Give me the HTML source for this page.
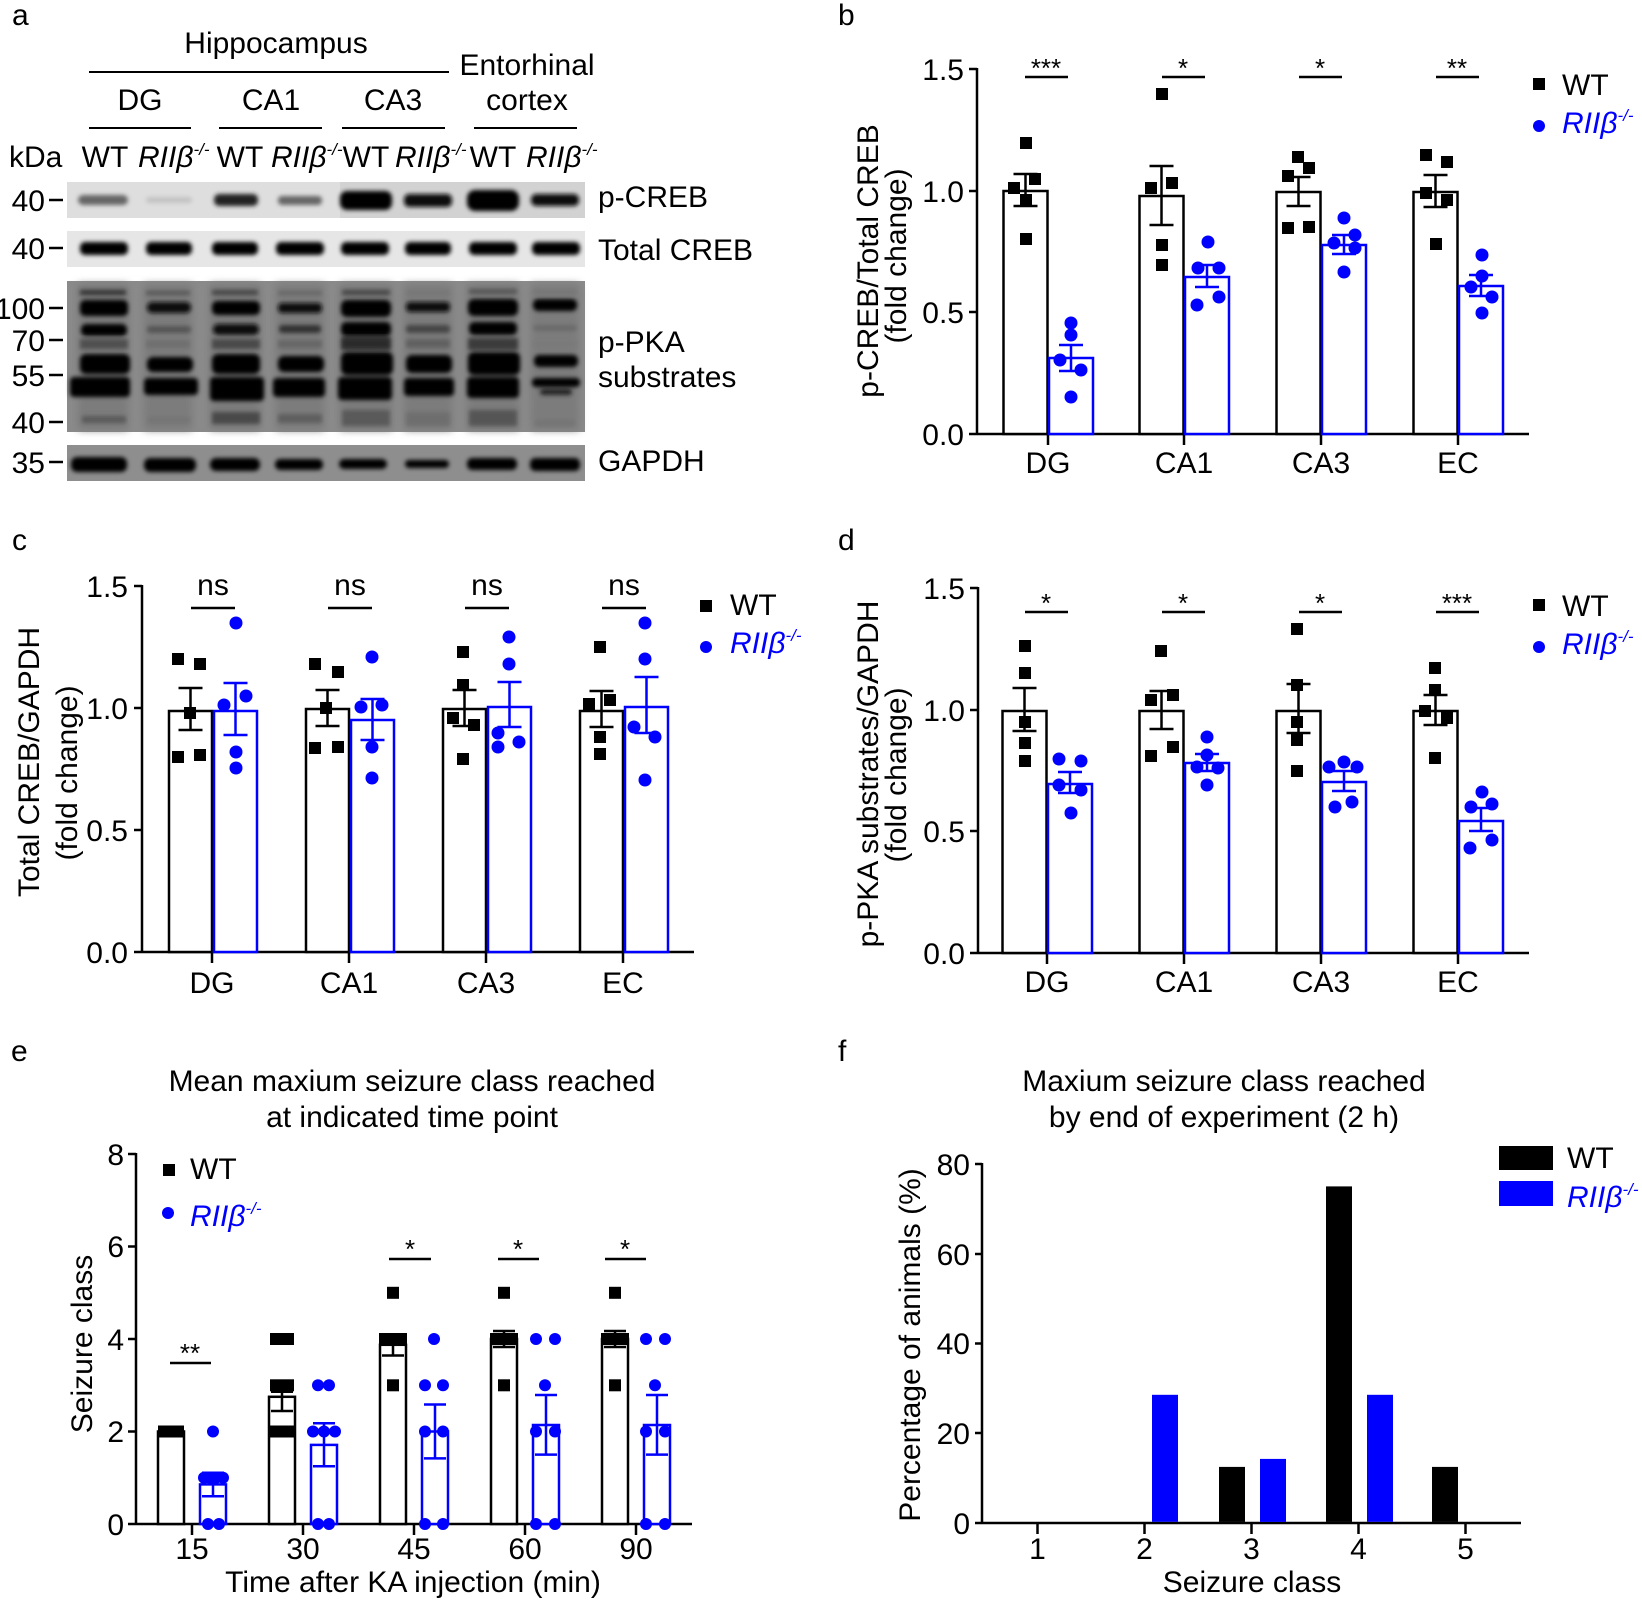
<!DOCTYPE html>
<html><head><meta charset="utf-8"><style>
html,body{margin:0;padding:0;background:#fff;}
svg{display:block;}
text{font-family:"Liberation Sans",Arial,sans-serif;}
</style></head><body>
<svg width="1642" height="1600" viewBox="0 0 1642 1600" xmlns="http://www.w3.org/2000/svg">
<defs>
<filter id="bl" x="-30%" y="-100%" width="160%" height="300%"><feGaussianBlur stdDeviation="2.2"/></filter>
<filter id="bl2" x="-30%" y="-100%" width="160%" height="300%"><feGaussianBlur stdDeviation="4"/></filter>
</defs>
<rect width="1642" height="1600" fill="#fff"/>

<!-- ============ PANEL A ============ -->
<text x="12" y="25" font-size="30">a</text>
<text x="276" y="53" font-size="30" text-anchor="middle">Hippocampus</text>
<line x1="89" y1="72" x2="449" y2="72" stroke="#000" stroke-width="2"/>
<text x="527" y="75" font-size="30" text-anchor="middle">Entorhinal</text>
<text x="527" y="110" font-size="30" text-anchor="middle">cortex</text>
<text x="140" y="110" font-size="30" text-anchor="middle">DG</text>
<text x="271" y="110" font-size="30" text-anchor="middle">CA1</text>
<text x="393" y="110" font-size="30" text-anchor="middle">CA3</text>
<g stroke="#000" stroke-width="2">
<line x1="89" y1="128" x2="191" y2="128"/><line x1="219" y1="128" x2="322" y2="128"/>
<line x1="342" y1="128" x2="445" y2="128"/><line x1="474" y1="128" x2="577" y2="128"/>
</g>
<g font-size="30">
<text x="9" y="167">kDa</text>
<text x="105" y="167" text-anchor="middle">WT</text>
<text x="138" y="167"><tspan font-style="italic">RIIβ</tspan><tspan font-size="17" dy="-12" font-style="italic">-/-</tspan></text>
<text x="240" y="167" text-anchor="middle">WT</text>
<text x="271" y="167"><tspan font-style="italic">RIIβ</tspan><tspan font-size="17" dy="-12" font-style="italic">-/-</tspan></text>
<text x="366" y="167" text-anchor="middle">WT</text>
<text x="395" y="167"><tspan font-style="italic">RIIβ</tspan><tspan font-size="17" dy="-12" font-style="italic">-/-</tspan></text>
<text x="493" y="167" text-anchor="middle">WT</text>
<text x="526" y="167"><tspan font-style="italic">RIIβ</tspan><tspan font-size="17" dy="-12" font-style="italic">-/-</tspan></text>
</g>
<!-- MW labels -->
<g font-size="30" text-anchor="end">
<text x="45" y="211">40</text><text x="45" y="259">40</text><text x="45" y="319">100</text>
<text x="45" y="351">70</text><text x="45" y="386">55</text><text x="45" y="433">40</text><text x="45" y="473">35</text>
</g>
<g stroke="#000" stroke-width="2.5">
<line x1="49" y1="200" x2="63" y2="200"/><line x1="49" y1="248" x2="63" y2="248"/>
<line x1="49" y1="308" x2="63" y2="308"/><line x1="49" y1="340" x2="63" y2="340"/>
<line x1="49" y1="375" x2="63" y2="375"/><line x1="49" y1="422" x2="63" y2="422"/>
<line x1="49" y1="462" x2="63" y2="462"/>
</g>
<!-- right labels -->
<g font-size="30">
<text x="598" y="207">p-CREB</text>
<text x="598" y="260">Total CREB</text>
<text x="598" y="352">p-PKA</text>
<text x="598" y="387">substrates</text>
<text x="598" y="471">GAPDH</text>
</g>

<!-- p-CREB strip -->
<rect x="67" y="182" width="518" height="36" fill="#dedede"/>
<rect x="340" y="182" width="245" height="36" fill="#d2d2d2"/>
<g filter="url(#bl)">
<rect x="78" y="195" width="50" height="10" rx="5" fill="#666"/>
<rect x="146" y="197" width="46" height="6" rx="3" fill="#c2c2c2"/>
<rect x="214" y="194" width="44" height="12" rx="5" fill="#222"/>
<rect x="278" y="196" width="44" height="9" rx="4" fill="#666"/>
<rect x="340" y="191" width="52" height="19" rx="7" fill="#000"/>
<rect x="404" y="194" width="48" height="13" rx="5" fill="#080808"/>
<rect x="467" y="190" width="52" height="21" rx="8" fill="#000"/>
<rect x="531" y="194" width="48" height="12" rx="5" fill="#0a0a0a"/>
</g>

<!-- Total CREB strip -->
<rect x="67" y="231" width="518" height="36" fill="#e6e6e6"/>
<g filter="url(#bl)">
<rect x="80" y="242" width="48" height="13" rx="5" fill="#000"/>
<rect x="146" y="242" width="46" height="13" rx="5" fill="#000"/>
<rect x="212" y="242" width="46" height="13" rx="5" fill="#000"/>
<rect x="276" y="242" width="48" height="13" rx="5" fill="#000"/>
<rect x="341" y="242" width="48" height="13" rx="5" fill="#000"/>
<rect x="405" y="242" width="46" height="13" rx="5" fill="#000"/>
<rect x="469" y="242" width="48" height="13" rx="5" fill="#000"/>
<rect x="532" y="242" width="48" height="13" rx="5" fill="#000"/>
</g>

<!-- p-PKA strip -->
<rect x="67" y="281" width="518" height="151" fill="#8a8a8a"/>
<g fill="#7c7c7c" filter="url(#bl2)">
<rect x="78" y="284" width="50" height="146"/><rect x="144" y="284" width="48" height="146"/>
<rect x="210" y="284" width="50" height="146"/><rect x="276" y="284" width="48" height="146"/>
<rect x="340" y="284" width="52" height="146"/><rect x="404" y="284" width="48" height="146"/>
<rect x="467" y="284" width="52" height="146"/><rect x="531" y="284" width="48" height="146"/>
</g>
<g filter="url(#bl)">
<!-- top faint -->
<rect x="80" y="290" width="46" height="5" fill="#333"/><rect x="146" y="291" width="44" height="4" fill="#555"/>
<rect x="212" y="290" width="46" height="5" fill="#444"/><rect x="278" y="291" width="44" height="4" fill="#666"/>
<rect x="342" y="290" width="48" height="5" fill="#444"/><rect x="406" y="291" width="44" height="4" fill="#777"/>
<rect x="469" y="289" width="48" height="5" fill="#555"/><rect x="533" y="290" width="44" height="4" fill="#777"/>
<!-- 100 band -->
<rect x="80" y="300" width="48" height="16" rx="5" fill="#000"/><rect x="147" y="302" width="44" height="11" rx="5" fill="#0c0c0c"/>
<rect x="212" y="301" width="48" height="14" rx="5" fill="#000"/><rect x="278" y="303" width="44" height="10" rx="4" fill="#111"/>
<rect x="341" y="300" width="50" height="17" rx="6" fill="#000"/><rect x="406" y="302" width="44" height="10" rx="4" fill="#0a0a0a"/>
<rect x="468" y="299" width="50" height="17" rx="6" fill="#000"/><rect x="533" y="299" width="44" height="12" rx="5" fill="#000"/>
<!-- 70 band -->
<rect x="81" y="324" width="46" height="12" rx="5" fill="#050505"/><rect x="147" y="326" width="44" height="7" rx="3" fill="#555"/>
<rect x="213" y="324" width="46" height="11" rx="5" fill="#0a0a0a"/><rect x="279" y="325" width="42" height="8" rx="3" fill="#333"/>
<rect x="341" y="322" width="50" height="14" rx="5" fill="#000"/><rect x="406" y="325" width="44" height="8" rx="3" fill="#444"/>
<rect x="469" y="322" width="48" height="13" rx="5" fill="#000"/><rect x="533" y="325" width="44" height="6" rx="3" fill="#6a6a6a"/>
<!-- smear -->
<rect x="80" y="339" width="48" height="10" fill="#505050"/><rect x="146" y="340" width="44" height="8" fill="#707070"/>
<rect x="212" y="339" width="48" height="10" fill="#4a4a4a"/><rect x="278" y="340" width="44" height="8" fill="#666"/>
<rect x="341" y="337" width="50" height="13" fill="#2a2a2a"/><rect x="406" y="339" width="44" height="9" fill="#606060"/>
<rect x="468" y="338" width="50" height="12" fill="#3a3a3a"/><rect x="533" y="340" width="44" height="8" fill="#7a7a7a"/>
<!-- 55 upper -->
<rect x="80" y="354" width="50" height="20" rx="6" fill="#000"/><rect x="147" y="357" width="46" height="15" rx="6" fill="#050505"/>
<rect x="212" y="354" width="48" height="20" rx="6" fill="#000"/><rect x="278" y="356" width="46" height="16" rx="6" fill="#000"/>
<rect x="341" y="352" width="52" height="23" rx="6" fill="#000"/><rect x="406" y="355" width="46" height="18" rx="6" fill="#000"/>
<rect x="468" y="352" width="52" height="23" rx="6" fill="#000"/><rect x="534" y="355" width="44" height="12" rx="5" fill="#000"/>
<!-- 55 main -->
<rect x="70" y="377" width="60" height="20" rx="4" fill="#000"/><rect x="144" y="378" width="54" height="17" rx="4" fill="#000"/>
<rect x="210" y="377" width="54" height="24" rx="4" fill="#000"/><rect x="273" y="378" width="52" height="19" rx="4" fill="#000"/>
<rect x="338" y="377" width="54" height="23" rx="4" fill="#000"/><rect x="404" y="378" width="50" height="18" rx="4" fill="#000"/>
<rect x="467" y="377" width="52" height="21" rx="4" fill="#000"/><rect x="532" y="378" width="48" height="9" rx="4" fill="#000"/>
<rect x="540" y="389" width="32" height="6" rx="3" fill="#222"/>
<!-- 40 faint -->
<rect x="82" y="416" width="44" height="7" fill="#5a5a5a"/><rect x="148" y="417" width="42" height="6" fill="#747474"/>
<rect x="212" y="412" width="48" height="12" fill="#4a4a4a"/><rect x="278" y="414" width="44" height="9" fill="#5e5e5e"/>
<rect x="342" y="410" width="48" height="16" fill="#5a5a5a"/><rect x="406" y="412" width="44" height="14" fill="#6e6e6e"/>
<rect x="469" y="410" width="48" height="16" fill="#555"/><rect x="535" y="420" width="40" height="6" fill="#747474"/>
</g>

<!-- GAPDH strip -->
<rect x="67" y="445" width="518" height="36" fill="#8e8e8e"/>
<g filter="url(#bl)">
<rect x="71" y="457" width="56" height="15" rx="6" fill="#000"/>
<rect x="144" y="458" width="52" height="14" rx="6" fill="#000"/>
<rect x="210" y="458" width="50" height="13" rx="6" fill="#000"/>
<rect x="275" y="459" width="48" height="11" rx="5" fill="#000"/>
<rect x="339" y="459" width="48" height="10" rx="5" fill="#000"/>
<rect x="405" y="460" width="44" height="8" rx="4" fill="#000"/>
<rect x="467" y="458" width="50" height="12" rx="5" fill="#000"/>
<rect x="530" y="458" width="50" height="13" rx="5" fill="#000"/>
</g>

<!-- ============ PANEL B ============ -->
<text x="838" y="25" font-size="30">b</text>
<g stroke="#000" stroke-width="2.5" fill="none">
<line x1="977" y1="68" x2="977" y2="435"/>
<line x1="969" y1="434" x2="1529" y2="434"/>
<line x1="969" y1="69" x2="977" y2="69"/><line x1="969" y1="191" x2="977" y2="191"/>
<line x1="969" y1="312" x2="977" y2="312"/>
<line x1="1048" y1="434" x2="1048" y2="445"/><line x1="1184" y1="434" x2="1184" y2="445"/>
<line x1="1321" y1="434" x2="1321" y2="445"/><line x1="1458" y1="434" x2="1458" y2="445"/>
</g>
<g font-size="30" text-anchor="end">
<text x="964" y="80">1.5</text><text x="964" y="202">1.0</text><text x="964" y="323">0.5</text><text x="964" y="445">0.0</text>
</g>
<g font-size="30" text-anchor="middle">
<text x="1048" y="473">DG</text><text x="1184" y="473">CA1</text><text x="1321" y="473">CA3</text><text x="1458" y="473">EC</text>
</g>
<text transform="translate(878,261) rotate(-90)" font-size="30" text-anchor="middle">p-CREB/Total CREB</text>
<text transform="translate(906,256) rotate(-90)" font-size="30" text-anchor="middle">(fold change)</text>
<!-- bars -->
<g stroke-width="2.5" fill="#fff">
<rect x="1003.5" y="191" width="44" height="243" stroke="#000"/>
<rect x="1049" y="358" width="44" height="76" stroke="#00f"/>
<rect x="1139.5" y="196" width="44" height="238" stroke="#000"/>
<rect x="1185" y="277" width="44" height="157" stroke="#00f"/>
<rect x="1276.5" y="192" width="44" height="242" stroke="#000"/>
<rect x="1322" y="245" width="44" height="189" stroke="#00f"/>
<rect x="1413.5" y="192" width="44" height="242" stroke="#000"/>
<rect x="1459" y="286" width="44" height="148" stroke="#00f"/>
</g>
<g fill="#000">
<rect x="1020" y="137" width="12" height="12"/><rect x="1029" y="173" width="12" height="12"/><rect x="1008" y="182" width="12" height="12"/><rect x="1020" y="194" width="12" height="12"/><rect x="1020" y="233" width="12" height="12"/>
<rect x="1156" y="88" width="12" height="12"/><rect x="1145" y="182" width="12" height="12"/><rect x="1166" y="177" width="12" height="12"/><rect x="1156" y="239" width="12" height="12"/><rect x="1156" y="259" width="12" height="12"/>
<rect x="1292" y="151" width="12" height="12"/><rect x="1303" y="162" width="12" height="12"/><rect x="1282" y="170" width="12" height="12"/><rect x="1282" y="222" width="12" height="12"/><rect x="1303" y="221" width="12" height="12"/>
<rect x="1420" y="149" width="12" height="12"/><rect x="1441" y="156" width="12" height="12"/><rect x="1420" y="187" width="12" height="12"/><rect x="1441" y="194" width="12" height="12"/><rect x="1430" y="238" width="12" height="12"/>
</g>
<g fill="#00f">
<circle cx="1071" cy="323" r="6.5"/><circle cx="1071" cy="335" r="6.5"/><circle cx="1060" cy="360" r="6.5"/><circle cx="1081" cy="370" r="6.5"/><circle cx="1071" cy="397" r="6.5"/>
<circle cx="1208" cy="242" r="6.5"/><circle cx="1198" cy="268" r="6.5"/><circle cx="1219" cy="268" r="6.5"/><circle cx="1219" cy="297" r="6.5"/><circle cx="1197" cy="305" r="6.5"/>
<circle cx="1344" cy="218" r="6.5"/><circle cx="1355" cy="235" r="6.5"/><circle cx="1334" cy="243" r="6.5"/><circle cx="1355" cy="248" r="6.5"/><circle cx="1344" cy="272" r="6.5"/>
<circle cx="1482" cy="255" r="6.5"/><circle cx="1482" cy="276" r="6.5"/><circle cx="1471" cy="287" r="6.5"/><circle cx="1492" cy="297" r="6.5"/><circle cx="1482" cy="313" r="6.5"/>
</g>
<g stroke-width="2.5" fill="none">
<path stroke="#000" d="M1025.5 174V206M1013.5 174h24M1013.5 206h24 M1161.5 166V225M1149.5 166h24M1149.5 225h24 M1298.5 177V206M1286.5 177h24M1286.5 206h24 M1435.5 175V207M1423.5 175h24M1423.5 207h24"/>
<path stroke="#00f" d="M1071 345V371M1059 345h24M1059 371h24 M1207 265V287M1195 265h24M1195 287h24 M1344 235V254M1332 235h24M1332 254h24 M1481 275V296M1469 275h24M1469 296h24"/>
</g>
<g stroke="#000" stroke-width="2.5">
<line x1="1025" y1="77" x2="1068" y2="77"/><line x1="1162" y1="77" x2="1205" y2="77"/>
<line x1="1299" y1="77" x2="1342" y2="77"/><line x1="1436" y1="77" x2="1479" y2="77"/>
</g>
<g font-size="26" text-anchor="middle">
<text x="1046" y="77">***</text><text x="1183" y="77">*</text><text x="1320" y="77">*</text><text x="1457" y="77">**</text>
</g>
<rect x="1533" y="78" width="12" height="12" fill="#000"/>
<text x="1562" y="95" font-size="30">WT</text>
<circle cx="1539" cy="126" r="6" fill="#00f"/>
<text x="1562" y="133" font-size="30" fill="#00f"><tspan font-style="italic">RIIβ</tspan><tspan font-size="17" dy="-12" font-style="italic">-/-</tspan></text>

<!-- ============ PANEL C ============ -->
<text x="12" y="550" font-size="30">c</text>
<g stroke="#000" stroke-width="2.5" fill="none">
<line x1="142" y1="585" x2="142" y2="953"/>
<line x1="134" y1="952" x2="694" y2="952"/>
<line x1="134" y1="586" x2="142" y2="586"/><line x1="134" y1="708" x2="142" y2="708"/>
<line x1="134" y1="830" x2="142" y2="830"/>
<line x1="212" y1="952" x2="212" y2="963"/><line x1="349" y1="952" x2="349" y2="963"/>
<line x1="486" y1="952" x2="486" y2="963"/><line x1="623" y1="952" x2="623" y2="963"/>
</g>
<g font-size="30" text-anchor="end">
<text x="128" y="597">1.5</text><text x="128" y="719">1.0</text><text x="128" y="841">0.5</text><text x="128" y="963">0.0</text>
</g>
<g font-size="30" text-anchor="middle">
<text x="212" y="993">DG</text><text x="349" y="993">CA1</text><text x="486" y="993">CA3</text><text x="623" y="993">EC</text>
</g>
<text transform="translate(39,762) rotate(-90)" font-size="30" text-anchor="middle">Total CREB/GAPDH</text>
<text transform="translate(77,773) rotate(-90)" font-size="30" text-anchor="middle">(fold change)</text>
<g stroke-width="2.5" fill="#fff">
<rect x="169" y="711" width="43" height="241" stroke="#000"/>
<rect x="214" y="711" width="43" height="241" stroke="#00f"/>
<rect x="306" y="709" width="43" height="243" stroke="#000"/>
<rect x="351" y="720" width="43" height="232" stroke="#00f"/>
<rect x="443" y="709" width="43" height="243" stroke="#000"/>
<rect x="488" y="707" width="43" height="245" stroke="#00f"/>
<rect x="580" y="711" width="43" height="241" stroke="#000"/>
<rect x="625" y="707" width="43" height="245" stroke="#00f"/>
</g>
<g fill="#000">
<rect x="172" y="653" width="12" height="12"/><rect x="194" y="658" width="12" height="12"/><rect x="184" y="707" width="12" height="12"/><rect x="172" y="751" width="12" height="12"/><rect x="194" y="749" width="12" height="12"/>
<rect x="309" y="658" width="12" height="12"/><rect x="332" y="666" width="12" height="12"/><rect x="320" y="702" width="12" height="12"/><rect x="309" y="742" width="12" height="12"/><rect x="332" y="741" width="12" height="12"/>
<rect x="457" y="646" width="12" height="12"/><rect x="457" y="679" width="12" height="12"/><rect x="447" y="712" width="12" height="12"/><rect x="468" y="719" width="12" height="12"/><rect x="457" y="753" width="12" height="12"/>
<rect x="594" y="641" width="12" height="12"/><rect x="583" y="698" width="12" height="12"/><rect x="604" y="694" width="12" height="12"/><rect x="594" y="731" width="12" height="12"/><rect x="594" y="748" width="12" height="12"/>
</g>
<g fill="#00f">
<circle cx="236" cy="623" r="6.5"/><circle cx="246" cy="696" r="6.5"/><circle cx="224" cy="705" r="6.5"/><circle cx="236" cy="752" r="6.5"/><circle cx="236" cy="768" r="6.5"/>
<circle cx="372" cy="657" r="6.5"/><circle cx="361" cy="707" r="6.5"/><circle cx="382" cy="705" r="6.5"/><circle cx="372" cy="747" r="6.5"/><circle cx="372" cy="778" r="6.5"/>
<circle cx="509" cy="637" r="6.5"/><circle cx="509" cy="664" r="6.5"/><circle cx="498" cy="733" r="6.5"/><circle cx="519" cy="742" r="6.5"/><circle cx="498" cy="747" r="6.5"/>
<circle cx="645" cy="623" r="6.5"/><circle cx="645" cy="659" r="6.5"/><circle cx="634" cy="727" r="6.5"/><circle cx="655" cy="737" r="6.5"/><circle cx="645" cy="780" r="6.5"/>
</g>
<g stroke-width="2.5" fill="none">
<path stroke="#000" d="M190.5 688V730M178.5 688h24M178.5 730h24 M327.5 690V726M315.5 690h24M315.5 726h24 M464.5 690V726M452.5 690h24M452.5 726h24 M601.5 691V727M589.5 691h24M589.5 727h24"/>
<path stroke="#00f" d="M235.5 683V735M223.5 683h24M223.5 735h24 M372.5 699V740M360.5 699h24M360.5 740h24 M509.5 682V727M497.5 682h24M497.5 727h24 M646.5 677V733M634.5 677h24M634.5 733h24"/>
</g>
<g stroke="#000" stroke-width="2.5">
<line x1="191" y1="608" x2="235" y2="608"/><line x1="328" y1="608" x2="372" y2="608"/>
<line x1="465" y1="608" x2="509" y2="608"/><line x1="602" y1="608" x2="646" y2="608"/>
</g>
<g font-size="30" text-anchor="middle">
<text x="213" y="595">ns</text><text x="350" y="595">ns</text><text x="487" y="595">ns</text><text x="624" y="595">ns</text>
</g>
<rect x="700" y="600" width="12" height="12" fill="#000"/>
<text x="730" y="615" font-size="30">WT</text>
<circle cx="706" cy="647" r="6" fill="#00f"/>
<text x="730" y="653" font-size="30" fill="#00f"><tspan font-style="italic">RIIβ</tspan><tspan font-size="17" dy="-12" font-style="italic">-/-</tspan></text>

<!-- ============ PANEL D ============ -->
<text x="838" y="550" font-size="30">d</text>
<g stroke="#000" stroke-width="2.5" fill="none">
<line x1="978" y1="587" x2="978" y2="954"/>
<line x1="970" y1="953" x2="1529" y2="953"/>
<line x1="970" y1="588" x2="978" y2="588"/><line x1="970" y1="710" x2="978" y2="710"/>
<line x1="970" y1="831" x2="978" y2="831"/>
<line x1="1047" y1="953" x2="1047" y2="964"/><line x1="1184" y1="953" x2="1184" y2="964"/>
<line x1="1321" y1="953" x2="1321" y2="964"/><line x1="1458" y1="953" x2="1458" y2="964"/>
</g>
<g font-size="30" text-anchor="end">
<text x="965" y="599">1.5</text><text x="965" y="721">1.0</text><text x="965" y="842">0.5</text><text x="965" y="964">0.0</text>
</g>
<g font-size="30" text-anchor="middle">
<text x="1047" y="992">DG</text><text x="1184" y="992">CA1</text><text x="1321" y="992">CA3</text><text x="1458" y="992">EC</text>
</g>
<text transform="translate(878,774) rotate(-90)" font-size="30" text-anchor="middle">p-PKA substrates/GAPDH</text>
<text transform="translate(906,775) rotate(-90)" font-size="30" text-anchor="middle">(fold change)</text>
<g stroke-width="2.5" fill="#fff">
<rect x="1002.5" y="711" width="44" height="242" stroke="#000"/>
<rect x="1048" y="784" width="44" height="169" stroke="#00f"/>
<rect x="1139.5" y="711" width="44" height="242" stroke="#000"/>
<rect x="1185" y="763" width="44" height="190" stroke="#00f"/>
<rect x="1276.5" y="711" width="44" height="242" stroke="#000"/>
<rect x="1322" y="782" width="44" height="171" stroke="#00f"/>
<rect x="1413.5" y="711" width="44" height="242" stroke="#000"/>
<rect x="1459" y="821" width="44" height="132" stroke="#00f"/>
</g>
<g fill="#000">
<rect x="1019" y="640" width="12" height="12"/><rect x="1019" y="667" width="12" height="12"/><rect x="1019" y="716" width="12" height="12"/><rect x="1019" y="737" width="12" height="12"/><rect x="1019" y="755" width="12" height="12"/>
<rect x="1155" y="645" width="12" height="12"/><rect x="1145" y="694" width="12" height="12"/><rect x="1167" y="689" width="12" height="12"/><rect x="1167" y="741" width="12" height="12"/><rect x="1145" y="750" width="12" height="12"/>
<rect x="1291" y="623" width="12" height="12"/><rect x="1291" y="679" width="12" height="12"/><rect x="1291" y="716" width="12" height="12"/><rect x="1291" y="734" width="12" height="12"/><rect x="1291" y="765" width="12" height="12"/>
<rect x="1429" y="662" width="12" height="12"/><rect x="1429" y="684" width="12" height="12"/><rect x="1419" y="705" width="12" height="12"/><rect x="1441" y="712" width="12" height="12"/><rect x="1429" y="752" width="12" height="12"/>
</g>
<g fill="#00f">
<circle cx="1059" cy="759" r="6.5"/><circle cx="1081" cy="761" r="6.5"/><circle cx="1059" cy="785" r="6.5"/><circle cx="1081" cy="790" r="6.5"/><circle cx="1071" cy="813" r="6.5"/>
<circle cx="1207" cy="737" r="6.5"/><circle cx="1207" cy="755" r="6.5"/><circle cx="1197" cy="767" r="6.5"/><circle cx="1218" cy="768" r="6.5"/><circle cx="1207" cy="785" r="6.5"/>
<circle cx="1329" cy="767" r="6.5"/><circle cx="1344" cy="762" r="6.5"/><circle cx="1357" cy="767" r="6.5"/><circle cx="1352" cy="802" r="6.5"/><circle cx="1335" cy="807" r="6.5"/>
<circle cx="1482" cy="792" r="6.5"/><circle cx="1471" cy="807" r="6.5"/><circle cx="1492" cy="804" r="6.5"/><circle cx="1492" cy="840" r="6.5"/><circle cx="1470" cy="848" r="6.5"/>
</g>
<g stroke-width="2.5" fill="none">
<path stroke="#000" d="M1024.5 688V731M1012.5 688h24M1012.5 731h24 M1161.5 691V729M1149.5 691h24M1149.5 729h24 M1298.5 684V733M1286.5 684h24M1286.5 733h24 M1435.5 695V725M1423.5 695h24M1423.5 725h24"/>
<path stroke="#00f" d="M1070 772V793M1058 772h24M1058 793h24 M1207 754V771M1195 754h24M1195 771h24 M1344 771V791M1332 771h24M1332 791h24 M1481 808V831M1469 808h24M1469 831h24"/>
</g>
<g stroke="#000" stroke-width="2.5">
<line x1="1025" y1="612" x2="1068" y2="612"/><line x1="1162" y1="612" x2="1205" y2="612"/>
<line x1="1299" y1="612" x2="1342" y2="612"/><line x1="1436" y1="612" x2="1479" y2="612"/>
</g>
<g font-size="26" text-anchor="middle">
<text x="1046" y="612">*</text><text x="1183" y="612">*</text><text x="1320" y="612">*</text><text x="1457" y="612">***</text>
</g>
<rect x="1533" y="599" width="12" height="12" fill="#000"/>
<text x="1562" y="616" font-size="30">WT</text>
<circle cx="1539" cy="647" r="6" fill="#00f"/>
<text x="1562" y="654" font-size="30" fill="#00f"><tspan font-style="italic">RIIβ</tspan><tspan font-size="17" dy="-12" font-style="italic">-/-</tspan></text>

<!-- ============ PANEL E ============ -->
<text x="11" y="1061" font-size="30">e</text>
<text x="412" y="1091" font-size="30" text-anchor="middle">Mean maxium seizure class reached</text>
<text x="412" y="1127" font-size="30" text-anchor="middle">at indicated time point</text>
<g stroke="#000" stroke-width="2.5" fill="none">
<line x1="136" y1="1153" x2="136" y2="1525"/>
<line x1="128" y1="1524" x2="692" y2="1524"/>
<line x1="128" y1="1154" x2="136" y2="1154"/><line x1="128" y1="1246.5" x2="136" y2="1246.5"/>
<line x1="128" y1="1339" x2="136" y2="1339"/><line x1="128" y1="1431.5" x2="136" y2="1431.5"/>
<line x1="192" y1="1524" x2="192" y2="1535"/><line x1="303" y1="1524" x2="303" y2="1535"/>
<line x1="414" y1="1524" x2="414" y2="1535"/><line x1="525" y1="1524" x2="525" y2="1535"/>
<line x1="636" y1="1524" x2="636" y2="1535"/>
</g>
<g font-size="30" text-anchor="end">
<text x="124" y="1165">8</text><text x="124" y="1257">6</text><text x="124" y="1350">4</text><text x="124" y="1442">2</text><text x="124" y="1535">0</text>
</g>
<g font-size="30" text-anchor="middle">
<text x="192" y="1559">15</text><text x="303" y="1559">30</text><text x="414" y="1559">45</text><text x="525" y="1559">60</text><text x="636" y="1559">90</text>
</g>
<text x="413" y="1592" font-size="30" text-anchor="middle">Time after KA injection (min)</text>
<text transform="translate(92,1344) rotate(-90)" font-size="30" text-anchor="middle">Seizure class</text>
<g stroke-width="2.5" fill="#fff">
<rect x="158" y="1431.5" width="26" height="92.5" stroke="#000"/>
<rect x="200" y="1484.4" width="26" height="39.6" stroke="#00f"/>
<rect x="269" y="1396.8" width="26" height="127.2" stroke="#000"/>
<rect x="311" y="1444.9" width="26" height="79.1" stroke="#00f"/>
<rect x="380" y="1344.8" width="26" height="179.2" stroke="#000"/>
<rect x="422" y="1431.5" width="26" height="92.5" stroke="#00f"/>
<rect x="491" y="1339" width="26" height="185" stroke="#000"/>
<rect x="533" y="1425" width="26" height="99" stroke="#00f"/>
<rect x="602" y="1339" width="26" height="185" stroke="#000"/>
<rect x="644" y="1425" width="26" height="99" stroke="#00f"/>
</g>
<g stroke-width="2.5" fill="none">
<path stroke="#000" d="M282 1391.8V1411M271 1391.8h22M271 1411h22 M393 1334.4V1355.5M382 1355.5h22 M504 1331V1347M493 1331h22M493 1347h22 M615 1331V1347M604 1331h22M604 1347h22"/>
<path stroke="#00f" d="M213 1472.7V1496.3M202 1472.7h22M202 1496.3h22 M324 1423.2V1466.2M313 1423.2h22M313 1466.2h22 M435 1404.5V1458.4M424 1404.5h22M424 1458.4h22 M546 1395V1454.6M535 1395h22M535 1454.6h22 M657 1395V1454.6M646 1395h22M646 1454.6h22"/>
</g>
<g fill="#000">
<rect x="158" y="1425.5" width="12" height="12"/><rect x="165" y="1425.5" width="12" height="12"/><rect x="172" y="1425.5" width="12" height="12"/>
<rect x="270" y="1333" width="12" height="12"/><rect x="282" y="1333" width="12" height="12"/>
<rect x="270" y="1379.3" width="12" height="12"/><rect x="282" y="1379.3" width="12" height="12"/>
<rect x="268" y="1425.5" width="12" height="12"/><rect x="276" y="1425.5" width="12" height="12"/><rect x="284" y="1425.5" width="12" height="12"/>
<rect x="387" y="1286.8" width="12" height="12"/>
<rect x="379" y="1333" width="12" height="12"/><rect x="387" y="1333" width="12" height="12"/><rect x="395" y="1333" width="12" height="12"/>
<rect x="387" y="1379.3" width="12" height="12"/>
<rect x="498" y="1286.8" width="12" height="12"/>
<rect x="490" y="1333" width="12" height="12"/><rect x="498" y="1333" width="12" height="12"/><rect x="506" y="1333" width="12" height="12"/>
<rect x="498" y="1379.3" width="12" height="12"/>
<rect x="609" y="1286.8" width="12" height="12"/>
<rect x="601" y="1333" width="12" height="12"/><rect x="609" y="1333" width="12" height="12"/><rect x="617" y="1333" width="12" height="12"/>
<rect x="609" y="1379.3" width="12" height="12"/>
</g>
<g fill="#00f">
<circle cx="213" cy="1431.5" r="6"/>
<circle cx="204" cy="1477.8" r="6"/><circle cx="210" cy="1477.8" r="6"/><circle cx="216" cy="1477.8" r="6"/><circle cx="223" cy="1477.8" r="6"/>
<circle cx="208" cy="1524" r="6"/><circle cx="219" cy="1524" r="6"/>
<circle cx="318" cy="1385.3" r="6"/><circle cx="329" cy="1385.3" r="6"/>
<circle cx="313" cy="1431.5" r="6"/><circle cx="324" cy="1431.5" r="6"/><circle cx="335" cy="1431.5" r="6"/>
<circle cx="318" cy="1524" r="6"/><circle cx="329" cy="1524" r="6"/>
<circle cx="434" cy="1339" r="6"/>
<circle cx="425" cy="1385.3" r="6"/><circle cx="443" cy="1385.3" r="6"/>
<circle cx="425" cy="1431.5" r="6"/><circle cx="443" cy="1431.5" r="6"/>
<circle cx="425" cy="1524" r="6"/><circle cx="443" cy="1524" r="6"/>
<circle cx="536" cy="1339" r="6"/><circle cx="555" cy="1339" r="6"/>
<circle cx="545" cy="1385.3" r="6"/>
<circle cx="536" cy="1431.5" r="6"/><circle cx="555" cy="1431.5" r="6"/>
<circle cx="536" cy="1524" r="6"/><circle cx="555" cy="1524" r="6"/>
<circle cx="646" cy="1339" r="6"/><circle cx="665" cy="1339" r="6"/>
<circle cx="655" cy="1385.3" r="6"/>
<circle cx="646" cy="1431.5" r="6"/><circle cx="665" cy="1431.5" r="6"/>
<circle cx="646" cy="1524" r="6"/><circle cx="665" cy="1524" r="6"/>
</g>
<g stroke="#000" stroke-width="2.5">
<line x1="170" y1="1363" x2="211" y2="1363"/><line x1="389" y1="1259" x2="431" y2="1259"/>
<line x1="498" y1="1259" x2="539" y2="1259"/><line x1="605" y1="1259" x2="646" y2="1259"/>
</g>
<g font-size="26" text-anchor="middle">
<text x="190" y="1362">**</text><text x="410" y="1258">*</text><text x="518" y="1258">*</text><text x="625" y="1258">*</text>
</g>
<rect x="163" y="1164" width="12" height="12" fill="#000"/>
<text x="190" y="1179" font-size="30">WT</text>
<circle cx="168" cy="1213" r="6" fill="#00f"/>
<text x="190" y="1226" font-size="30" fill="#00f"><tspan font-style="italic">RIIβ</tspan><tspan font-size="17" dy="-12" font-style="italic">-/-</tspan></text>

<!-- ============ PANEL F ============ -->
<text x="838" y="1061" font-size="30">f</text>
<text x="1224" y="1091" font-size="30" text-anchor="middle">Maxium seizure class reached</text>
<text x="1224" y="1127" font-size="30" text-anchor="middle">by end of experiment (2 h)</text>
<g stroke="#000" stroke-width="2.5" fill="none">
<line x1="982" y1="1163" x2="982" y2="1524"/>
<line x1="975" y1="1523" x2="1521" y2="1523"/>
<line x1="975" y1="1164" x2="982" y2="1164"/><line x1="975" y1="1254" x2="982" y2="1254"/>
<line x1="975" y1="1343.5" x2="982" y2="1343.5"/><line x1="975" y1="1433" x2="982" y2="1433"/>
<line x1="1037.5" y1="1523" x2="1037.5" y2="1534"/><line x1="1144.5" y1="1523" x2="1144.5" y2="1534"/>
<line x1="1251.5" y1="1523" x2="1251.5" y2="1534"/><line x1="1358.5" y1="1523" x2="1358.5" y2="1534"/>
<line x1="1465.5" y1="1523" x2="1465.5" y2="1534"/>
</g>
<g font-size="30" text-anchor="end">
<text x="970" y="1175">80</text><text x="970" y="1265">60</text><text x="970" y="1354">40</text><text x="970" y="1444">20</text><text x="970" y="1534">0</text>
</g>
<g font-size="30" text-anchor="middle">
<text x="1037.5" y="1559">1</text><text x="1144.5" y="1559">2</text><text x="1251.5" y="1559">3</text><text x="1358.5" y="1559">4</text><text x="1465.5" y="1559">5</text>
</g>
<text x="1252" y="1592" font-size="30" text-anchor="middle">Seizure class</text>
<text transform="translate(920,1345) rotate(-90)" font-size="30" text-anchor="middle">Percentage of animals (%)</text>
<rect x="1152" y="1394.8" width="26" height="127" fill="#00f"/>
<rect x="1219" y="1466.9" width="26" height="55" fill="#000"/>
<rect x="1260" y="1458.9" width="26" height="63" fill="#00f"/>
<rect x="1326" y="1186.4" width="26" height="335.5" fill="#000"/>
<rect x="1367" y="1394.8" width="26" height="127" fill="#00f"/>
<rect x="1432" y="1466.9" width="26" height="55" fill="#000"/>
<rect x="1499" y="1146" width="54" height="24" fill="#000"/>
<text x="1567" y="1168" font-size="30">WT</text>
<rect x="1499" y="1181" width="54" height="25" fill="#00f"/>
<text x="1567" y="1207" font-size="30" fill="#00f"><tspan font-style="italic">RIIβ</tspan><tspan font-size="17" dy="-12" font-style="italic">-/-</tspan></text>
</svg>
</body></html>
